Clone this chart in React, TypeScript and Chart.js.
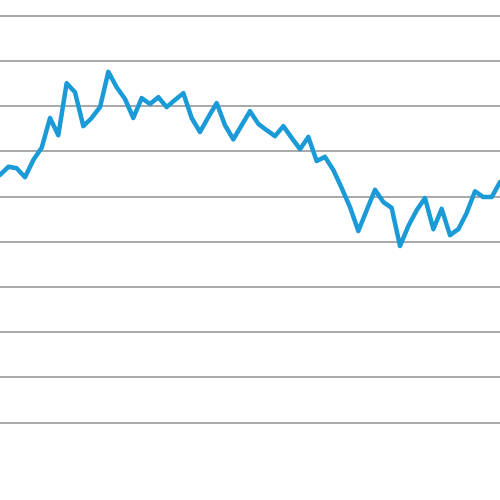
import React, { useEffect, useRef } from 'react';
import { Chart, ChartConfiguration, registerables } from 'chart.js';

Chart.register(...registerables);

// series values, one per period
const values: number[] = [
  54.8, 56.6, 56.3, 54.3, 58.1, 60.8, 67.4, 63.6, 75.1, 73.1,
  65.6, 67.4, 69.8, 77.6, 74.2, 71.6, 67.4, 71.8, 70.5, 72.0,
  69.8, 71.4, 72.9, 67.4, 64.3, 67.6, 70.7, 65.8, 62.7, 65.8,
  68.9, 66.1, 64.7, 63.4, 65.6, 63.0, 60.5, 63.2, 57.9, 58.8,
  55.9, 51.9, 47.7, 42.4, 47.0, 51.5, 48.8, 47.5, 39.1, 43.5,
  47.0, 49.7, 42.8, 47.3, 41.5, 42.8, 46.4, 51.2, 49.9, 49.9,
  53.2,
];

const categories: string[] = values.map((_, i) => `P${i + 1}`);

// horizontal gridline values
const gridValues: number[] = [0, 10, 20, 30, 40, 50, 60, 70, 80, 90];

const yMin = -17.1;
const yMax = 93.5;

const LineChart: React.FC = () => {
  const chartRef = useRef<HTMLCanvasElement | null>(null);
  const chartInstance = useRef<Chart | null>(null);

  useEffect(() => {
    if (!chartRef.current) return;
    const ctx = chartRef.current.getContext('2d');
    if (!ctx) return;

    if (chartInstance.current) {
      chartInstance.current.destroy();
    }

    const config: ChartConfiguration = {
      type: 'line',
      data: {
        labels: categories,
        datasets: [
          {
            label: '',
            data: values,
            borderColor: '#1b9ad8',
            borderWidth: 4.5,
            borderJoinStyle: 'round',
            borderCapStyle: 'round',
            pointRadius: 0,
            tension: 0,
            fill: false,
          },
        ],
      },
      options: {
        animation: false,
        responsive: true,
        maintainAspectRatio: false,
        layout: { padding: 0 },
        plugins: {
          legend: { display: false },
          tooltip: { enabled: false },
        },
        scales: {
          x: {
            display: false,
            offset: false,
          },
          y: {
            min: yMin,
            max: yMax,
            afterBuildTicks: (scale) => {
              scale.ticks = gridValues.map((v) => ({ value: v }));
            },
            ticks: { display: false },
            border: { display: false },
            grid: {
              color: '#aaaaaa',
              lineWidth: 2,
              drawTicks: false,
            },
          },
        },
      },
    };

    chartInstance.current = new Chart(ctx, config);

    return () => {
      if (chartInstance.current) {
        chartInstance.current.destroy();
        chartInstance.current = null;
      }
    };
  }, []);

  return (
    <div style={{ position: 'fixed', left: 0, top: 0, width: '500px', height: '500px', background: '#fff' }}>
      <canvas ref={chartRef} />
    </div>
  );
};

export default function App() {
  return <LineChart />;
}
